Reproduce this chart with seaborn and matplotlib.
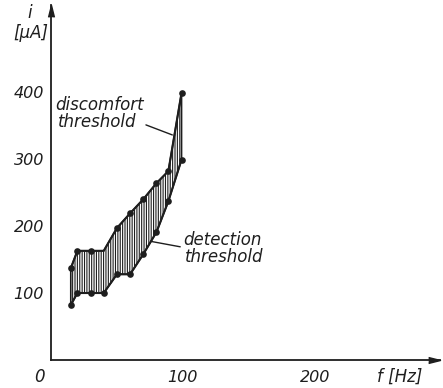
import matplotlib
matplotlib.use("Agg")
import matplotlib.pyplot as plt
import seaborn as sns
import pandas as pd

# ---- data ----
freq_hz = [15, 20, 30, 40, 50, 60, 70, 80, 89, 99]
discomfort_ua = [137, 163, 163, 163, 197, 219, 240, 264, 282, 399]
detection_ua = [82, 100, 100, 100, 128, 128, 158, 191, 237, 299]
x_ticks = [50, 100, 150, 200, 250]
x_tick_labels = ["", "100", "", "200", ""]
y_ticks = [100, 200, 300, 400]
y_tick_labels = ["100", "200", "300", "400"]

sns.set_style("white")
plt.rcParams["font.family"] = ["DejaVu Sans"]
plt.rcParams["hatch.linewidth"] = 0.8
plt.rcParams["hatch.color"] = "#222222"

ink = "#1e1e1e"
df = pd.DataFrame({"f": freq_hz, "upper": discomfort_ua, "lower": detection_ua})

fig = plt.figure(figsize=(4.43, 3.88), dpi=100)
fig.patch.set_facecolor("white")
ax = fig.add_axes([51 / 443, 28 / 388, 389 / 443, 355 / 388])
ax.set_xlim(0, 295)
ax.set_ylim(0, 530)

# hatched band between the thresholds
ax.fill_between(df["f"], df["lower"], df["upper"], facecolor="none",
                edgecolor=ink, linewidth=1.2, hatch="|||||||")

sns.lineplot(data=df, x="f", y="upper", ax=ax, color=ink, linewidth=1.5,
             marker="o", markersize=4.8, markeredgewidth=0,
             markevery=[0, 1, 2, 4, 5, 6, 7, 8, 9])
sns.lineplot(data=df, x="f", y="lower", ax=ax, color=ink, linewidth=1.5,
             marker="o", markersize=4.8, markeredgewidth=0)

# axes styling
for s in ["top", "right"]:
    ax.spines[s].set_visible(False)
for s in ["left", "bottom"]:
    ax.spines[s].set_color(ink)
    ax.spines[s].set_linewidth(1.3)
ax.set_xlabel("")
ax.set_ylabel("")
ax.set_xticks(x_ticks)
ax.set_xticklabels(x_tick_labels)
ax.set_yticks(y_ticks)
ax.set_yticklabels(y_tick_labels)
ax.tick_params(axis="x", direction="in", length=5, width=1.3, color=ink,
               pad=7, labelsize=11.5, labelcolor=ink)
ax.tick_params(axis="y", direction="in", length=5, width=1.3, color=ink,
               pad=5, labelsize=11.5, labelcolor=ink)
for lab in ax.get_xticklabels() + ax.get_yticklabels():
    lab.set_fontstyle("italic")

# arrow heads
ax.plot(1, 0, marker=[(-2, -0.5), (0, 0), (-2, 0.5)], markersize=17,
        color=ink, transform=ax.get_yaxis_transform(), clip_on=False)
ax.plot(0, 1, marker=[(-0.5, -2), (0, 0), (0.5, -2)], markersize=17,
        color=ink, transform=ax.get_xaxis_transform(), clip_on=False)

txt = dict(color=ink, fontsize=12, style="italic", clip_on=False)
ax.text(-9, -25, "0", ha="center", va="center", **txt)
ax.text(247, -25, "f [Hz]", ha="left", va="center", **txt)
ax.text(-16, 518, "i", ha="center", va="center", **txt)
ax.text(-15, 488, "[µA]", ha="center", va="center", **txt)

ax.text(3, 381, "discomfort", ha="left", va="center", **txt)
ax.text(5.3, 355, "threshold", ha="left", va="center", **txt)
ax.plot([72, 92], [351, 336], color=ink, linewidth=1.0)

ax.text(100, 179, "detection", ha="left", va="center", **txt)
ax.text(101.5, 154, "threshold", ha="left", va="center", **txt)
ax.plot([76, 98], [177, 169], color=ink, linewidth=1.0)

fig.savefig("out.png", dpi=100, facecolor="white")
